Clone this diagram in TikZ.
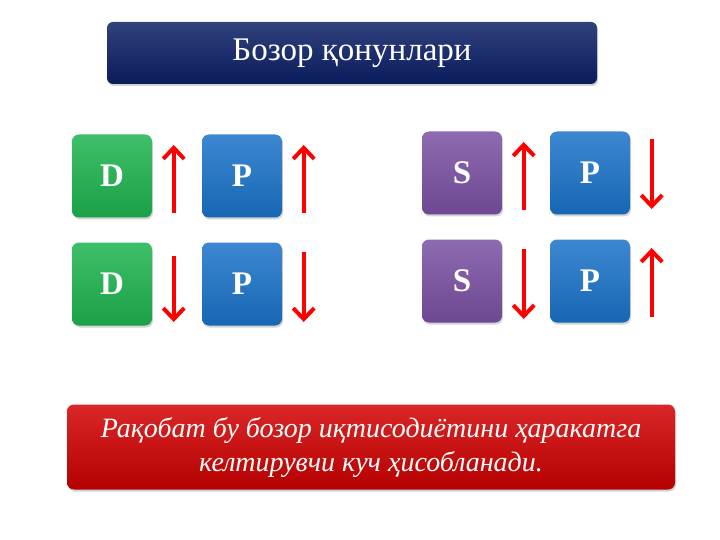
\documentclass[tikz,border=0pt]{standalone}
\usepackage{fontspec}
\setmainfont{Liberation Serif}
\usetikzlibrary{arrows.meta,shadows}

\definecolor{titlenavy}{HTML}{0B1F66}
\definecolor{dgreen}{HTML}{1DB34E}
\definecolor{pblue}{HTML}{1A72C8}
\definecolor{spurple}{HTML}{7A50A3}
\definecolor{notered}{HTML}{D40000}

\tikzset{
  tile/.style={rounded corners=7pt, minimum width=80pt, minimum height=83pt,
    text=white, font=\fontsize{33}{36}\selectfont\bfseries,
    drop shadow={shadow xshift=1pt, shadow yshift=-2pt, opacity=0.35}},
  dtile/.style={tile, top color=dgreen!85!white, bottom color=dgreen!90!black},
  ptile/.style={tile, top color=pblue!85!white, bottom color=pblue!90!black},
  stile/.style={tile, top color=spurple!85!white, bottom color=spurple!90!black},
  move/.style={draw=red, line width=4pt, -{Straight Barb[length=11pt,width=21pt]}},
}

\begin{document}
\begin{tikzpicture}[x=1pt,y=-1pt]
  \useasboundingbox (0,0) rectangle (720,540);

  % heading
  \node (title) [rounded corners=6pt, minimum width=490pt, minimum height=62pt,
    top color=titlenavy!85!white, bottom color=titlenavy!90!black, text=white,
    font=\fontsize{33}{36}\selectfont,
    drop shadow={shadow xshift=1pt, shadow yshift=-2pt, opacity=0.35}]
    at (352,53) {Бозор қонунлари};

  % demand side
  \node (d1) [dtile] at (112,176) {D};
  \node (p1) [ptile] at (242,176) {P};
  \node (d2) [dtile] at (112,284) {D};
  \node (p2) [ptile] at (242,284) {P};

  % supply side
  \node (s1) [stile] at (462,173) {S};
  \node (p3) [ptile] at (590,173) {P};
  \node (s2) [stile] at (462,281) {S};
  \node (p4) [ptile] at (590,281) {P};

  % up / down arrows next to each tile
  \foreach \b/\s/\e in {d1/-37/31, p1/-37/31, d2/28/-38, p2/32/-38,
                        s1/-37/31, p3/34/-36, s2/32/-38, p4/-36/33} {
    \draw[move] ([xshift=21.5pt,yshift=\s pt]\b.east) -- ([xshift=21.5pt,yshift=\e pt]\b.east);
  }

  % conclusion
  \node (note) [rounded corners=7pt, minimum width=608pt, minimum height=85pt,
    top color=notered!85!white, bottom color=notered!85!black, text=white,
    font=\fontsize{28}{34}\selectfont\itshape, align=center,
    drop shadow={shadow xshift=1pt, shadow yshift=-2pt, opacity=0.35}]
    at (371,447) {Рақобат бу бозор иқтисодиётини ҳаракатга\\келтирувчи куч ҳисобланади.};
\end{tikzpicture}
\end{document}
